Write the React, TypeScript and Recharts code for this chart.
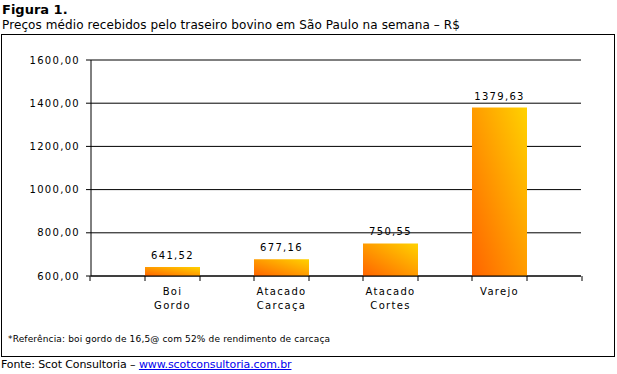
import React from 'react';
import { BarChart, Bar, XAxis, YAxis, CartesianGrid, LabelList } from 'recharts';

// categorias (duas linhas cada)
const categories = ['Boi\nGordo', 'Atacado\nCarcaça', 'Atacado\nCortes', 'Varejo'];
const precos = [641.52, 677.16, 750.55, 1379.63];
const yTicks = [600, 800, 1000, 1200, 1400, 1600];

const data = categories.map((name, i) => ({ name, preco: precos[i] }));

const FONT = '"DejaVu Sans", Verdana, sans-serif';
const BAR = 55;

const fmt = (v: number, d: number) => v.toFixed(d).replace('.', ',');

// ticks do eixo X ficam nas bordas das barras, como no Excel
// eslint-disable-next-line @typescript-eslint/no-explicit-any
const CategoryTick = (props: any) => {
    const { x, y, payload, index } = props;
    const lines = String(payload.value).split('\n');
    const top = y - 8;
    return (
        <g>
            <line x1={x - BAR / 2} x2={x - BAR / 2} y1={top} y2={top + 5} stroke="#000" />
            <line x1={x + BAR / 2} x2={x + BAR / 2} y1={top} y2={top + 5} stroke="#000" />
            {index === 0 && <line x1={x - BAR * 1.5} x2={x - BAR * 1.5} y1={top} y2={top + 5} stroke="#000" />}
            {index === categories.length - 1 && (
                <line x1={x + BAR * 1.5} x2={x + BAR * 1.5} y1={top} y2={top + 5} stroke="#000" />
            )}
            {lines.map((l, i) => (
                <text
                    key={i}
                    x={x}
                    y={top + 19 + i * 14}
                    textAnchor="middle"
                    fontSize={10}
                    fontFamily={FONT}
                    letterSpacing={1.3}
                    fill="#000"
                >
                    {l}
                </text>
            ))}
        </g>
    );
};

export default function App() {
    return (
        <div style={{ position: 'absolute', left: 0, top: 0, width: 617, height: 374, background: '#fff', fontFamily: FONT }}>
            <div style={{ position: 'absolute', left: 2, top: 2, fontSize: 13, fontWeight: 'bold' }}>Figura 1.</div>
            <div style={{ position: 'absolute', left: 2, top: 18, fontSize: 12, letterSpacing: 0.1, whiteSpace: 'nowrap' }}>
                Preços médio recebidos pelo traseiro bovino em São Paulo na semana – R$
            </div>
            <div style={{ position: 'absolute', left: 1, top: 34, width: 612, height: 321, border: '1px solid #000' }} />
            <div style={{ position: 'absolute', left: 0, top: 0 }}>
                <BarChart width={617} height={374} data={data} margin={{ top: 60, right: 36, bottom: 58, left: 0 }}>
                    <defs>
                        <linearGradient id="barGrad" x1="0" y1="1" x2="1" y2="0">
                            <stop offset="0%" stopColor="#FF6400" />
                            <stop offset="100%" stopColor="#FFD200" />
                        </linearGradient>
                    </defs>
                    <CartesianGrid vertical={false} stroke="#000" />
                    <XAxis
                        dataKey="name"
                        padding={{ left: 27, right: 27 }}
                        axisLine={{ stroke: '#000' }}
                        tickLine={false}
                        height={40}
                        interval={0}
                        tick={<CategoryTick />}
                    />
                    <YAxis
                        domain={[600, 1600]}
                        ticks={yTicks}
                        width={91}
                        interval={0}
                        axisLine={{ stroke: '#000' }}
                        tickLine={{ stroke: '#000' }}
                        tickSize={5}
                        tickMargin={6}
                        tickFormatter={(v: number) => fmt(v, 2)}
                        tick={{ fill: '#000', fontSize: 10, fontFamily: FONT, letterSpacing: 1.3 }}
                    />
                    <Bar dataKey="preco" fill="url(#barGrad)" barSize={BAR} isAnimationActive={false}>
                        <LabelList
                            dataKey="preco"
                            position="top"
                            offset={8}
                            formatter={(v: number) => fmt(v, 2)}
                            style={{ fill: '#000', fontSize: 10, fontFamily: FONT, letterSpacing: 1.3 }}
                        />
                    </Bar>
                </BarChart>
            </div>
            <div style={{ position: 'absolute', left: 8, top: 334, fontSize: 9, letterSpacing: 0.15, whiteSpace: 'nowrap' }}>
                *Referência: boi gordo de 16,5@ com 52% de rendimento de carcaça
            </div>
            <div style={{ position: 'absolute', left: 1, top: 358, fontSize: 11, letterSpacing: -0.1, whiteSpace: 'nowrap' }}>
                Fonte: Scot Consultoria –{' '}
                <a href="#" style={{ color: '#0000EE', textDecoration: 'underline' }}>
                    www.scotconsultoria.com.br
                </a>
            </div>
        </div>
    );
}
